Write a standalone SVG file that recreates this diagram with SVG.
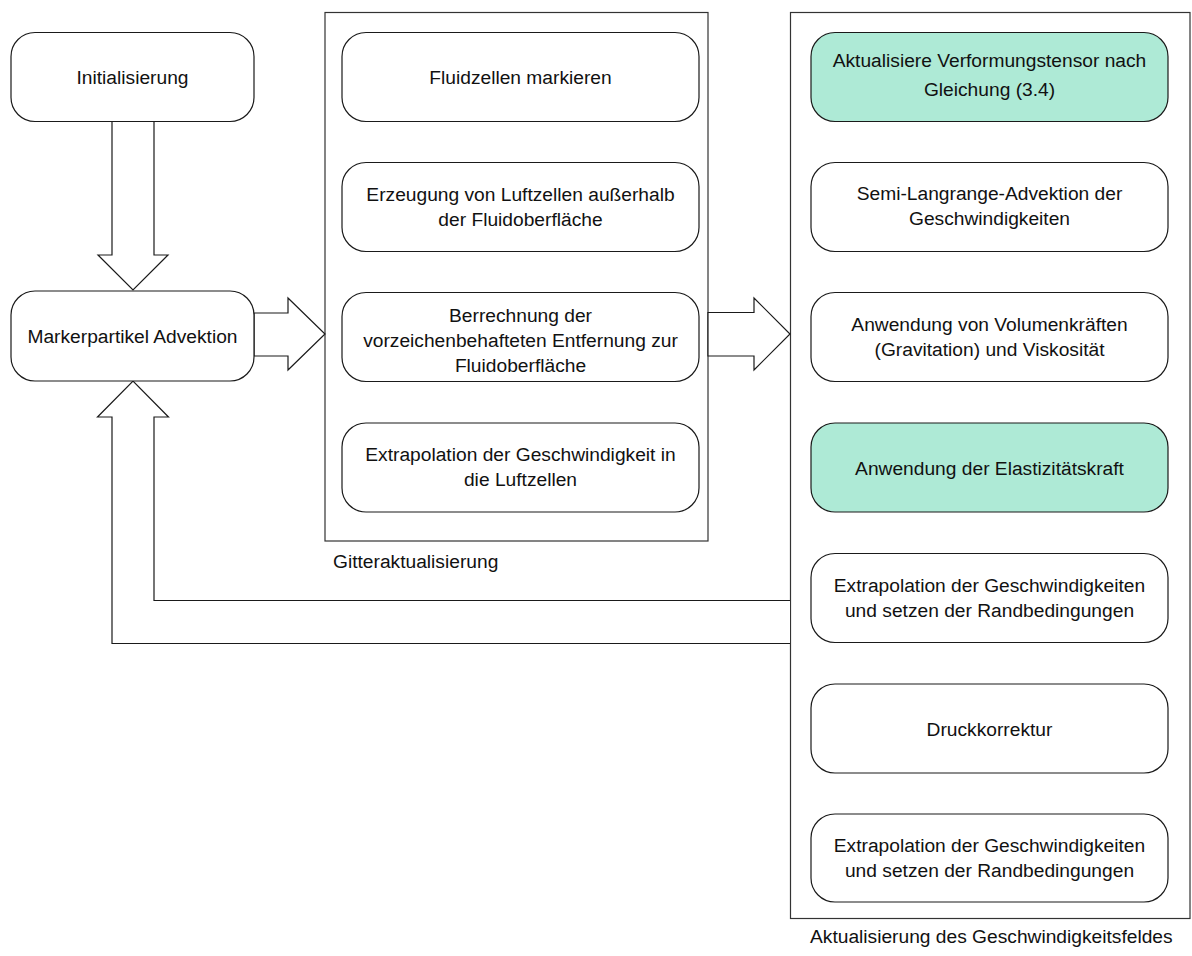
<svg xmlns="http://www.w3.org/2000/svg" width="1192" height="956" viewBox="0 0 1192 956">
  <style>
    .frame { fill: #ffffff; stroke: #333333; stroke-width: 1.2; }
    .step { fill: #ffffff; stroke: #1a1a1a; stroke-width: 1.2; }
    .step.hl { fill: #aeead6; }
    .block { fill: #ffffff; stroke: #1a1a1a; stroke-width: 1.2; stroke-linejoin: miter; }
    text { font-family: "Liberation Sans", Arial, sans-serif; font-size: 19.2px; fill: #111111; text-anchor: middle; }
    text.caption { text-anchor: start; }
  </style>

  <!-- group frames -->
  <g id="gitteraktualisierung">
    <rect class="frame" x="325" y="12.5" width="383" height="528.5"/>
    <text class="caption" x="333" y="568">Gitteraktualisierung</text>
  </g>
  <g id="geschwindigkeitsfeld">
    <rect class="frame" x="790.5" y="12.5" width="399.5" height="906"/>
    <text class="caption" x="810" y="943">Aktualisierung des Geschwindigkeitsfeldes</text>
  </g>

  <!-- block arrows and feedback loop -->
  <g id="connectors">
    <polygon class="block" points="112,121.5 154,121.5 154,255 168,255 133,290 98,255 112,255"/>
    <polygon class="block" points="254,313 288,313 288,298 325,334 288,370 288,356 254,356"/>
    <polygon class="block" points="708,312.5 754,312.5 754,298 790,334 754,370 754,356 708,356"/>
    <path class="block" fill="none" d="M790,643.5 H112 V417 H97.5 L133,381 L168.5,417 H154 V600.5 H790"/>
  </g>

  <!-- left column -->
  <g id="initialisierung">
    <rect class="step" x="11" y="32.5" width="243" height="89" rx="24" ry="24"/>
    <text x="132.5" y="84">Initialisierung</text>
  </g>
  <g id="markerpartikel">
    <rect class="step" x="11" y="291" width="243" height="90" rx="24" ry="24"/>
    <text x="132.5" y="343">Markerpartikel Advektion</text>
  </g>

  <!-- grid update steps -->
  <g id="fluidzellen">
    <rect class="step" x="342" y="32.5" width="357" height="89" rx="24" ry="24"/>
    <text x="520.5" y="84">Fluidzellen markieren</text>
  </g>
  <g id="luftzellen">
    <rect class="step" x="342" y="162.5" width="357" height="89" rx="24" ry="24"/>
    <text x="520.5" y="200.5">Erzeugung von Luftzellen außerhalb</text>
    <text x="520.5" y="225.5">der Fluidoberfläche</text>
  </g>
  <g id="entfernung">
    <rect class="step" x="342" y="292.5" width="357" height="89" rx="24" ry="24"/>
    <text x="520.5" y="322">Berrechnung der</text>
    <text x="520.5" y="347">vorzeichenbehafteten Entfernung zur</text>
    <text x="520.5" y="371.5">Fluidoberfläche</text>
  </g>
  <g id="extrapolation-luft">
    <rect class="step" x="342" y="423" width="357" height="89" rx="24" ry="24"/>
    <text x="520.5" y="461">Extrapolation der Geschwindigkeit in</text>
    <text x="520.5" y="486">die Luftzellen</text>
  </g>

  <!-- velocity update steps -->
  <g id="verformungstensor">
    <rect class="step hl" x="811" y="32.5" width="357" height="89" rx="24" ry="24"/>
    <text x="989.5" y="67">Aktualisiere Verformungstensor nach</text>
    <text x="989.5" y="95.5">Gleichung (3.4)</text>
  </g>
  <g id="advektion">
    <rect class="step" x="811" y="162.5" width="357" height="89" rx="24" ry="24"/>
    <text x="989.5" y="200">Semi-Langrange-Advektion der</text>
    <text x="989.5" y="225">Geschwindigkeiten</text>
  </g>
  <g id="volumenkraefte">
    <rect class="step" x="811" y="292.5" width="357" height="89" rx="24" ry="24"/>
    <text x="989.5" y="330.5">Anwendung von Volumenkräften</text>
    <text x="989.5" y="355.5">(Gravitation) und Viskosität</text>
  </g>
  <g id="elastizitaet">
    <rect class="step hl" x="811" y="423" width="357" height="89" rx="24" ry="24"/>
    <text x="989.5" y="474.5">Anwendung der Elastizitätskraft</text>
  </g>
  <g id="randbedingungen-1">
    <rect class="step" x="811" y="553.5" width="357" height="89" rx="24" ry="24"/>
    <text x="989.5" y="591.5">Extrapolation der Geschwindigkeiten</text>
    <text x="989.5" y="616.5">und setzen der Randbedingungen</text>
  </g>
  <g id="druckkorrektur">
    <rect class="step" x="811" y="684" width="357" height="89" rx="24" ry="24"/>
    <text x="989.5" y="735.5">Druckkorrektur</text>
  </g>
  <g id="randbedingungen-2">
    <rect class="step" x="811" y="814" width="357" height="88" rx="24" ry="24"/>
    <text x="989.5" y="852">Extrapolation der Geschwindigkeiten</text>
    <text x="989.5" y="877">und setzen der Randbedingungen</text>
  </g>
</svg>
